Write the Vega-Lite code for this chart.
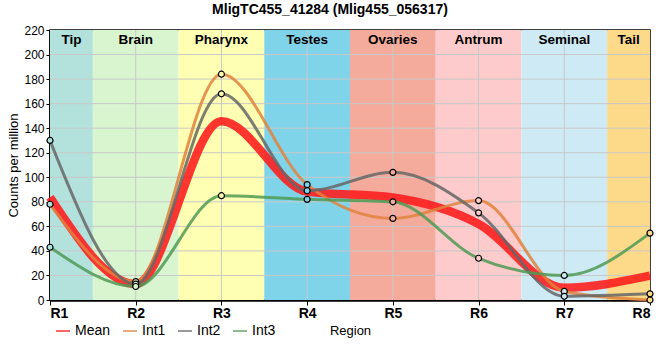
{
  "$schema": "https://vega.github.io/schema/vega-lite/v6.json",
  "autosize": "none",
  "width": 600,
  "height": 270,
  "padding": {"left": 50, "top": 30, "right": 10, "bottom": 60},
  "background": "white",
  "title": {"text": "MligTC455_41284 (Mlig455_056317)", "font": "Liberation Sans", "fontSize": 14, "fontWeight": "bold", "color": "black", "anchor": "middle", "dx": -20, "offset": 7},
  "config": {
    "view": {"stroke": "black", "strokeWidth": 1.5},
    "font": "Liberation Sans"
  },
  "datasets": {
    "bands": [
      {"band": "Tip", "lo": 1, "hi": 1.5, "mid": 1.25},
      {"band": "Brain", "lo": 1.5, "hi": 2.5, "mid": 2},
      {"band": "Pharynx", "lo": 2.5, "hi": 3.5, "mid": 3},
      {"band": "Testes", "lo": 3.5, "hi": 4.5, "mid": 4},
      {"band": "Ovaries", "lo": 4.5, "hi": 5.5, "mid": 5},
      {"band": "Antrum", "lo": 5.5, "hi": 6.5, "mid": 6},
      {"band": "Seminal", "lo": 6.5, "hi": 7.5, "mid": 7},
      {"band": "Tail", "lo": 7.5, "hi": 8, "mid": 7.75}
    ],
    "grid": [{"g": 0}, {"g": 20}, {"g": 40}, {"g": 60}, {"g": 80}, {"g": 100}, {"g": 120}, {"g": 140}, {"g": 160}, {"g": 180}, {"g": 200}, {"g": 220}],
    "series": [
      {"r": 1, "band": "Tip", "series": "Mean", "value": 83.7},
      {"r": 2, "band": "Brain", "series": "Mean", "value": 13},
      {"r": 3, "band": "Pharynx", "series": "Mean", "value": 145.7},
      {"r": 4, "band": "Testes", "series": "Mean", "value": 88.3},
      {"r": 5, "band": "Ovaries", "series": "Mean", "value": 83.5},
      {"r": 6, "band": "Antrum", "series": "Mean", "value": 62},
      {"r": 7, "band": "Seminal", "series": "Mean", "value": 10},
      {"r": 8, "band": "Tail", "series": "Mean", "value": 19.8},
      {"r": 1, "band": "Tip", "series": "Int1", "value": 78},
      {"r": 2, "band": "Brain", "series": "Int1", "value": 15},
      {"r": 3, "band": "Pharynx", "series": "Int1", "value": 184},
      {"r": 4, "band": "Testes", "series": "Int1", "value": 94},
      {"r": 5, "band": "Ovaries", "series": "Int1", "value": 66.5},
      {"r": 6, "band": "Antrum", "series": "Int1", "value": 81},
      {"r": 7, "band": "Seminal", "series": "Int1", "value": 7},
      {"r": 8, "band": "Tail", "series": "Int1", "value": 0},
      {"r": 1, "band": "Tip", "series": "Int2", "value": 130},
      {"r": 2, "band": "Brain", "series": "Int2", "value": 13},
      {"r": 3, "band": "Pharynx", "series": "Int2", "value": 168},
      {"r": 4, "band": "Testes", "series": "Int2", "value": 89},
      {"r": 5, "band": "Ovaries", "series": "Int2", "value": 104},
      {"r": 6, "band": "Antrum", "series": "Int2", "value": 71},
      {"r": 7, "band": "Seminal", "series": "Int2", "value": 3},
      {"r": 8, "band": "Tail", "series": "Int2", "value": 5},
      {"r": 1, "band": "Tip", "series": "Int3", "value": 43},
      {"r": 2, "band": "Brain", "series": "Int3", "value": 11},
      {"r": 3, "band": "Pharynx", "series": "Int3", "value": 85},
      {"r": 4, "band": "Testes", "series": "Int3", "value": 82},
      {"r": 5, "band": "Ovaries", "series": "Int3", "value": 80},
      {"r": 6, "band": "Antrum", "series": "Int3", "value": 34},
      {"r": 7, "band": "Seminal", "series": "Int3", "value": 20},
      {"r": 8, "band": "Tail", "series": "Int3", "value": 54.5}
    ]
  },
  "layer": [
    {
      "data": {"name": "grid"},
      "mark": {"type": "rule", "color": "#c8c8c8", "strokeWidth": 1},
      "encoding": {"y": {"field": "g", "type": "quantitative", "scale": {"domain": [0, 220], "nice": false, "zero": true},
          "axis": {"values": [0, 20, 40, 60, 80, 100, 120, 140, 160, 180, 200, 220], "tickCount": 12, "grid": false, "labelOverlap": false, "labelFontSize": 12, "labelColor": "black", "labelFont": "Liberation Sans", "labelPadding": 2, "tickSize": 4, "tickColor": "black", "domainColor": "black", "domainWidth": 2.5, "title": "Counts per million", "titleFontSize": 13, "titleFontWeight": "normal", "titleColor": "black", "titlePadding": 3, "titleFont": "Liberation Sans"}},
        "opacity": {"value": 0}}
    },
    {
      "data": {"name": "bands"},
      "mark": {"type": "rect"},
      "encoding": {
        "x": {"field": "lo", "type": "quantitative", "scale": {"domain": [1, 8], "nice": false, "zero": false},
          "axis": {"values": [1, 2, 3, 4, 5, 6, 7, 8], "labelExpr": "'R' + datum.value", "grid": false, "labelFontSize": 14, "labelColor": "black", "labelFont": "Liberation Sans", "labelFontWeight": "bold", "labelPadding": 1, "labelOverlap": false, "tickSize": 5, "tickColor": "black", "tickWidth": 1, "domainColor": "black", "domainWidth": 2.5, "title": "Region", "titleFontSize": 13, "titleFontWeight": "normal", "titleColor": "black", "titlePadding": 4, "titleFont": "Liberation Sans"}},
        "x2": {"field": "hi"},
        "y": {"datum": 0, "type": "quantitative"},
        "y2": {"datum": 220},
        "fill": {"field": "band", "type": "nominal", "legend": null,
          "scale": {"domain": ["Tip", "Brain", "Pharynx", "Testes", "Ovaries", "Antrum", "Seminal", "Tail"],
            "range": ["#b3e2dd", "#d8f5d0", "#ffffb3", "#80d4ea", "#f4ab9c", "#fdcbcb", "#ceebf5", "#fdda8a"]}}
      }
    },
    {
      "data": {"name": "grid"},
      "transform": [{"filter": "datum.g > 0 && datum.g < 220"}],
      "mark": {"type": "rule", "color": "#c8c8c8", "strokeWidth": 1},
      "encoding": {"y": {"field": "g", "type": "quantitative"}}
    },
    {
      "data": {"name": "series"},
      "transform": [{"filter": "datum.series == 'Mean' && datum.r > 1 && datum.r < 8"}],
      "mark": {"type": "rule", "color": "#c8c8c8", "strokeWidth": 1},
      "encoding": {"x": {"field": "r", "type": "quantitative"}}
    },
    {
      "data": {"name": "bands"},
      "mark": {"type": "text", "font": "Liberation Sans", "fontSize": 13.5, "fontWeight": "bold", "color": "black", "baseline": "middle", "align": "center"},
      "encoding": {
        "x": {"field": "mid", "type": "quantitative"},
        "y": {"datum": 212},
        "text": {"field": "band"}
      }
    },
    {
      "data": {"name": "series"},
      "transform": [{"filter": "datum.series == 'Mean'"}],
      "mark": {"type": "line", "interpolate": "monotone", "opacity": 0.88, "strokeWidth": 8.5, "strokeCap": "butt"},
      "encoding": {
        "x": {"field": "r", "type": "quantitative"},
        "y": {"field": "value", "type": "quantitative"},
        "stroke": {"field": "series", "type": "nominal",
          "scale": {"domain": ["Mean", "Int1", "Int2", "Int3"], "range": ["#ff1a1a", "#e0823d", "#666666", "#4f9a55"]},
          "legend": {"orient": "none", "direction": "horizontal", "columns": 4, "legendX": 5, "legendY": 293, "title": null, "symbolSize": 196, "labelFontSize": 14, "labelFont": "Liberation Sans", "labelOffset": 4, "columnPadding": 9, "padding": 0,
            "encode": {
              "symbols": {"update": {
                "shape": {"signal": "datum.value == 'Mean' ? 'M-1.05,-0.62L1.05,-0.62L1.05,0.62L-1.05,0.62Z' : 'M-0.85,-0.21L0.85,-0.21L0.85,0.21L-0.85,0.21Z'"},
                "fill": {"scale": "stroke", "field": "value"},
                "fillOpacity": {"value": 0.9},
                "strokeWidth": {"value": 0}}},
              "labels": {"update": {"fill": {"scale": "stroke", "field": "value"}, "opacity": {"value": 0.8}}}}}}
      }
    },
    {
      "data": {"name": "series"},
      "transform": [{"filter": "datum.series != 'Mean'"}],
      "mark": {"type": "line", "interpolate": "monotone", "opacity": 0.85, "strokeWidth": 3},
      "encoding": {
        "x": {"field": "r", "type": "quantitative"},
        "y": {"field": "value", "type": "quantitative"},
        "stroke": {"field": "series", "type": "nominal"}
      }
    },
    {
      "data": {"name": "series"},
      "transform": [{"filter": "datum.series != 'Mean'"}],
      "mark": {"type": "point", "filled": true, "stroke": "black", "strokeWidth": 1.2, "size": 36, "opacity": 1},
      "encoding": {
        "x": {"field": "r", "type": "quantitative"},
        "y": {"field": "value", "type": "quantitative"},
        "fill": {"field": "band", "type": "nominal", "legend": null}
      }
    }
  ]
}
